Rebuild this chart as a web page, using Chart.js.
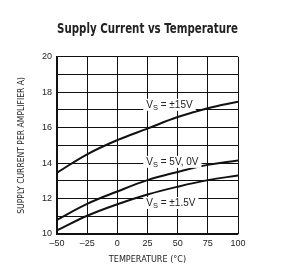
<!DOCTYPE html>
<html>
<head>
<meta charset="utf-8">
<script src="https://cdn.jsdelivr.net/npm/chart.js@4"></script>
<style>
  html, body { margin: 0; padding: 0; background: #fff; }
  #wrap { width: 287px; height: 273px; }
</style>
</head>
<body>
<div id="wrap"><canvas id="chart" width="287" height="273"></canvas></div>
<script>
// --- Data ---
const temps = [-50, -25, 0, 25, 50, 75, 100];
const vs15 = [13.46, 14.5, 15.3, 15.95, 16.6, 17.1, 17.46];
const vs5 = [10.8, 11.7, 12.4, 13.04, 13.5, 13.9, 14.15];
const vs1p5 = [10.2, 11.03, 11.68, 12.23, 12.67, 13.04, 13.3];
const seriesNames = ['±15V', '5V, 0V', '±1.5V'];
const xTicks = [-50, -25, 0, 25, 50, 75, 100];
const yTicks = [10, 12, 14, 16, 18, 20];

// label anchors (data coordinates) for the curve annotations
const labelAnchors = [
    { x: 24, y: 17.29 },
    { x: 24, y: 14.07 },
    { x: 24, y: 11.75 }
];

const NARROW = '"DejaVu Sans Condensed", "Liberation Sans Narrow", "Liberation Sans", sans-serif';
const SANS = '"Liberation Sans", Arial, sans-serif';

const toPoints = (ys) => temps.map((t, i) => ({ x: t, y: ys[i] }));

// --- Curve labels: "V" + subscript "S" + " = ..." on a white box ---
const curveLabels = {
    id: 'curveLabels',
    afterDatasetsDraw(chart) {
        const ctx = chart.ctx;
        const xs = chart.scales.x, ys = chart.scales.y;
        ctx.save();
        labelAnchors.forEach((a, i) => {
            const px = xs.getPixelForValue(a.x);
            const py = ys.getPixelForValue(a.y);
            const main = '10px ' + SANS;
            const sub = '7.5px ' + SANS;
            const rest = ' = ' + seriesNames[i];
            ctx.font = main;
            const wV = ctx.measureText('V').width;
            const wRest = ctx.measureText(rest).width;
            ctx.font = sub;
            const wS = ctx.measureText('S').width;
            const total = wV + wS + wRest;
            ctx.fillStyle = '#fff';
            ctx.fillRect(px - 3, py - 6, total + 6, 12);
            ctx.fillStyle = '#222';
            ctx.textBaseline = 'middle';
            ctx.textAlign = 'left';
            ctx.font = main;
            ctx.fillText('V', px, py);
            ctx.font = sub;
            ctx.fillText('S', px + wV, py + 3);
            ctx.font = main;
            ctx.fillText(rest, px + wV + wS, py);
        });
        ctx.restore();
    }
};

const lineStyle = { borderColor: '#111', borderWidth: 2, pointRadius: 0, tension: 0.4, fill: false };

new Chart(document.getElementById('chart').getContext('2d'), {
    type: 'line',
    data: {
        datasets: [
            Object.assign({ label: seriesNames[0], data: toPoints(vs15) }, lineStyle),
            Object.assign({ label: seriesNames[1], data: toPoints(vs5) }, lineStyle),
            Object.assign({ label: seriesNames[2], data: toPoints(vs1p5) }, lineStyle)
        ]
    },
    options: {
        responsive: false,
        animation: false,
        layout: { padding: { top: 0, right: 49, left: 0, bottom: 0 } },
        plugins: {
            legend: { display: false },
            tooltip: { enabled: false },
            title: {
                display: true,
                fullSize: false,
                text: 'Supply Current vs Temperature',
                color: '#222',
                font: { family: NARROW, size: 14, weight: 'bold', lineHeight: 1.2 },
                padding: { top: 21, bottom: 19 }
            }
        },
        scales: {
            x: {
                type: 'linear',
                min: -50, max: 100,
                afterBuildTicks: (s) => { s.ticks = xTicks.map(v => ({ value: v })); },
                afterFit: (s) => { s.height = 39; },
                ticks: {
                    color: '#222',
                    padding: 4,
                    font: { family: SANS, size: 9 },
                    callback: (v) => (v < 0 ? '\u2013' + Math.abs(v) : String(v))
                },
                grid: { color: '#111', lineWidth: 1, drawTicks: false },
                border: { color: '#111', width: 1.2 },
                title: {
                    display: true,
                    text: 'TEMPERATURE (°C)',
                    color: '#222',
                    font: { family: NARROW, size: 9 },
                    padding: { top: 2, bottom: 8 }
                }
            },
            y: {
                min: 10, max: 20,
                ticks: {
                    stepSize: 1,
                    color: '#222',
                    padding: 5,
                    font: { family: SANS, size: 9 },
                    callback: (v) => (yTicks.includes(v) ? String(v) : '')
                },
                afterFit: (s) => { s.width = 57; },
                grid: { color: '#111', lineWidth: 1, drawTicks: false },
                border: { color: '#111', width: 1.2 },
                title: {
                    display: true,
                    text: 'SUPPLY CURRENT PER AMPLIFIER A)',
                    color: '#222',
                    font: { family: NARROW, size: 8.5 },
                    padding: { top: 17 }
                }
            }
        }
    },
    plugins: [curveLabels]
});
</script>
</body>
</html>
